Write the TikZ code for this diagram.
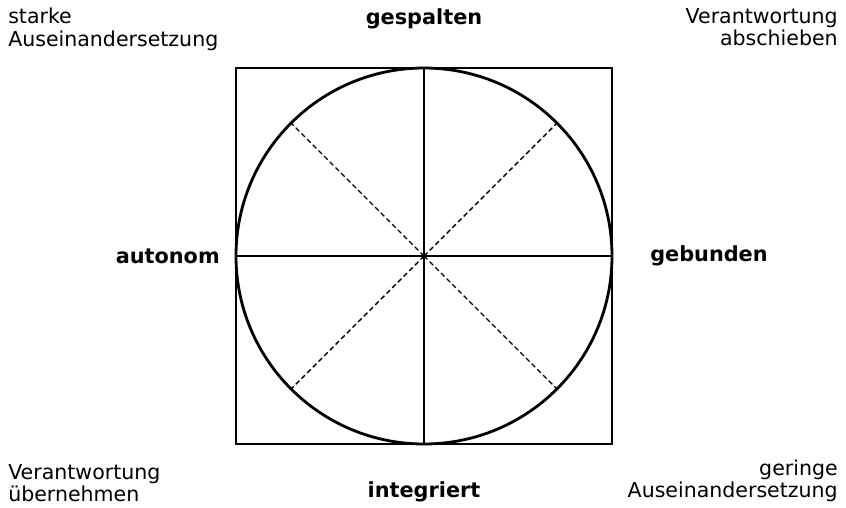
\documentclass[tikz,border=0pt]{standalone}
\usepackage{fontspec}
\setmainfont{DejaVu Sans}
\usepackage{tikz}
\usetikzlibrary{positioning,calc}

\begin{document}
\begin{tikzpicture}[x=0.025cm,y=-0.025cm,
  lbl/.style={font=\fontsize{14.6}{15.8}\selectfont,inner sep=0pt},
  pole/.style={lbl,font=\fontsize{14.8}{15.8}\selectfont\bfseries},
  diag/.style={dash pattern=on 3.5pt off 2.2pt,line width=1pt}]
  \useasboundingbox (0,0) rectangle (846,507);
  % frame, circle and axes
  \coordinate (c) at (424,256);
  \draw[line width=1.1pt] (236,68) rectangle (612,444);
  \draw[line width=2pt] (c) circle[radius=188*0.025cm];
  \coordinate (n) at (424,68);
  \coordinate (s) at (424,444);
  \coordinate (w) at (236,256);
  \coordinate (e) at (612,256);
  \draw[line width=1pt] (n) -- (s);
  \draw[line width=1pt] (w) -- (e);
  \draw[diag] (c) -- ($(c)+(-133,-133)$) coordinate (nw);
  \draw[diag] (c) -- ($(c)+(133,-133)$) coordinate (ne);
  \draw[diag] (c) -- ($(c)+(-133,133)$) coordinate (sw);
  \draw[diag] (c) -- ($(c)+(133,133)$) coordinate (se);
  % axis poles
  \node[pole] (top) at (424,19) {gespalten};
  \node[pole] (bot) at (424,492) {integriert};
  \node[pole,anchor=east] (left) at (220,256) {autonom};
  \node[pole,anchor=west] (right) at (650,256) {gebunden};
  % corners
  \node[lbl,anchor=north west,align=left] (tl) at (8,8) {starke\\Auseinandersetzung};
  \node[lbl,anchor=north east,align=right] (tr) at (838,8) {Verantwortung\\abschieben};
  \node[lbl,anchor=south west,align=left] (bl) at (8,502) {Verantwortung\\übernehmen};
  \node[lbl,anchor=south east,align=right] (br) at (838,502) {geringe\\Auseinandersetzung};
\end{tikzpicture}
\end{document}
